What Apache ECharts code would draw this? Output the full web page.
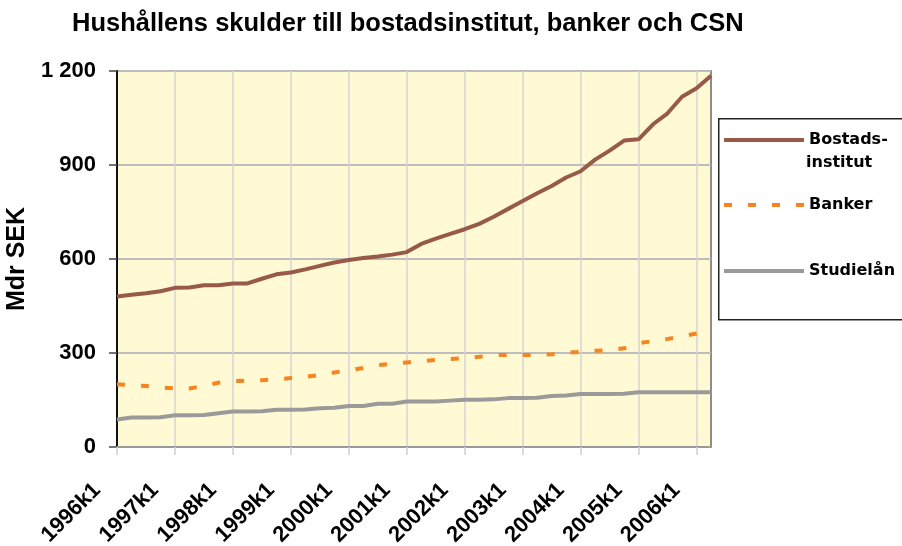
<!DOCTYPE html>
<html>
<head>
<meta charset="utf-8">
<script src="https://cdn.jsdelivr.net/npm/echarts@6/dist/echarts.min.js"></script>
<style>
  html, body { margin: 0; padding: 0; background: #fff; }
  #chart { width: 902px; height: 546px; }
</style>
</head>
<body>
<div id="chart"></div>
<script>
// kvartal 1996k1 - 2006k2
const categories = [
  '1996k1', '1996k2', '1996k3', '1996k4', '1997k1', '1997k2', '1997k3', '1997k4',
  '1998k1', '1998k2', '1998k3', '1998k4', '1999k1', '1999k2', '1999k3', '1999k4',
  '2000k1', '2000k2', '2000k3', '2000k4', '2001k1', '2001k2', '2001k3', '2001k4',
  '2002k1', '2002k2', '2002k3', '2002k4', '2003k1', '2003k2', '2003k3', '2003k4',
  '2004k1', '2004k2', '2004k3', '2004k4', '2005k1', '2005k2', '2005k3', '2005k4',
  '2006k1', '2006k2'
];

// Mdr SEK
const bostads = [
  480, 486, 491, 497, 508, 509, 516, 516, 522, 522,
  537, 551, 557, 567, 578, 589, 597, 603, 608, 614,
  622, 648, 665, 680, 695, 712, 735, 760, 785, 810,
  833, 860, 880, 917, 946, 978, 982, 1030, 1065, 1118,
  1145, 1185
];
const banker = [
  200, 197, 195, 190, 187, 187, 195, 205, 210, 212,
  213, 216, 220, 224, 230, 238, 245, 252, 261, 266,
  270, 274, 278, 281, 284, 288, 293, 294, 294, 294,
  296, 300, 304, 307, 309, 315, 331, 338, 345, 353,
  362, 374
];
const studie = [
  88, 94, 94, 95, 101, 101, 102, 108, 113, 113,
  114, 119, 119, 120, 124, 125, 131, 131, 138, 138,
  145, 145, 145, 148, 151, 151, 152, 156, 156, 157,
  163, 164, 169, 169, 169, 170, 175, 175, 175, 175,
  175, 175
];

const yTickLabels = ['0', '300', '600', '900', '1 200'];

const font = "'Liberation Sans', Arial, sans-serif";
const legendFont = "'DejaVu Sans', 'Liberation Sans', sans-serif";

const chart = echarts.init(document.getElementById('chart'));

// en legend per serie, så att varje rad kan placeras för sig
const legendItem = (name, label, top) => ({
  data: [name],
  orient: 'vertical',
  left: 722,
  top: top,
  padding: 0,
  itemWidth: 80,
  itemHeight: 20,
  itemGap: 4,
  selectedMode: false,
  formatter: () => label,
  itemStyle: { opacity: 0 },
  lineStyle: { width: 4 },
  textStyle: { fontFamily: legendFont, fontWeight: 'bold', fontSize: 16, color: '#000' }
});

chart.setOption({
  animation: false,
  backgroundColor: '#fff',
  title: {
    text: 'Hushållens skulder till bostadsinstitut, banker och CSN',
    left: 72,
    top: 11,
    padding: 0,
    textStyle: { fontFamily: font, fontWeight: 'bold', fontSize: 25.5, color: '#000' }
  },
  legend: [
    legendItem('Bostadsinstitut', 'Bostads-', 132),
    legendItem('Banker', 'Banker', 197),
    legendItem('Studielån', 'Studielån', 263)
  ],
  graphic: [
    {
      type: 'rect',
      left: 718,
      top: 118,
      shape: { width: 260, height: 201 },
      style: { fill: 'transparent', stroke: '#222', lineWidth: 1.5 },
      z: 0
    },
    {
      type: 'text',
      left: 806,
      top: 155,
      style: {
        text: 'institut',
        font: 'bold 16px ' + legendFont,
        fill: '#000'
      }
    }
  ],
  grid: {
    left: 117,
    right: 191,
    top: 71,
    bottom: 99,
    outerBoundsMode: 'none',
    show: true,
    backgroundColor: '#FFF9D4',
    borderColor: '#8c8c8c',
    borderWidth: 2
  },
  xAxis: {
    type: 'category',
    data: categories,
    boundaryGap: false,
    axisLine: { lineStyle: { color: '#9a9a9a', width: 2 } },
    axisTick: { interval: 3, length: 8, lineStyle: { color: '#cfcfcf', width: 1.5 } },
    axisLabel: {
      interval: 3,
      rotate: 45,
      margin: 20,
      padding: [0, 28, 0, 0],
      fontFamily: font,
      fontWeight: 'bold',
      fontSize: 22,
      color: '#000'
    },
    splitLine: { show: true, interval: 3, lineStyle: { color: '#d4d4d4', width: 1.5 } }
  },
  yAxis: {
    type: 'value',
    min: 0,
    max: 1200,
    interval: 300,
    name: 'Mdr SEK',
    nameLocation: 'middle',
    nameGap: 78,
    nameTextStyle: { fontFamily: font, fontWeight: 'bold', fontSize: 25, color: '#000' },
    axisLine: { show: true, lineStyle: { color: '#111', width: 2 } },
    axisTick: { show: true, length: 8, lineStyle: { color: '#444', width: 1.5 } },
    axisLabel: {
      margin: 21,
      fontFamily: font,
      fontWeight: 'bold',
      fontSize: 22,
      color: '#000',
      formatter: v => yTickLabels[Math.round(v / 300)]
    },
    splitLine: { lineStyle: { color: '#bdbdbd', width: 2 } }
  },
  series: [
    {
      name: 'Bostadsinstitut',
      type: 'line',
      data: bostads,
      symbol: 'none',
      z: 4,
      lineStyle: { color: '#985A48', width: 4 },
      itemStyle: { color: '#985A48' }
    },
    {
      name: 'Banker',
      type: 'line',
      data: banker,
      symbol: 'none',
      z: 3,
      lineStyle: { color: '#F7851F', width: 4, type: [8, 16] },
      itemStyle: { color: '#F7851F' }
    },
    {
      name: 'Studielån',
      type: 'line',
      data: studie,
      symbol: 'none',
      z: 3,
      lineStyle: { color: '#9a9a9a', width: 4 },
      itemStyle: { color: '#9a9a9a' }
    }
  ]
});
</script>
</body>
</html>
